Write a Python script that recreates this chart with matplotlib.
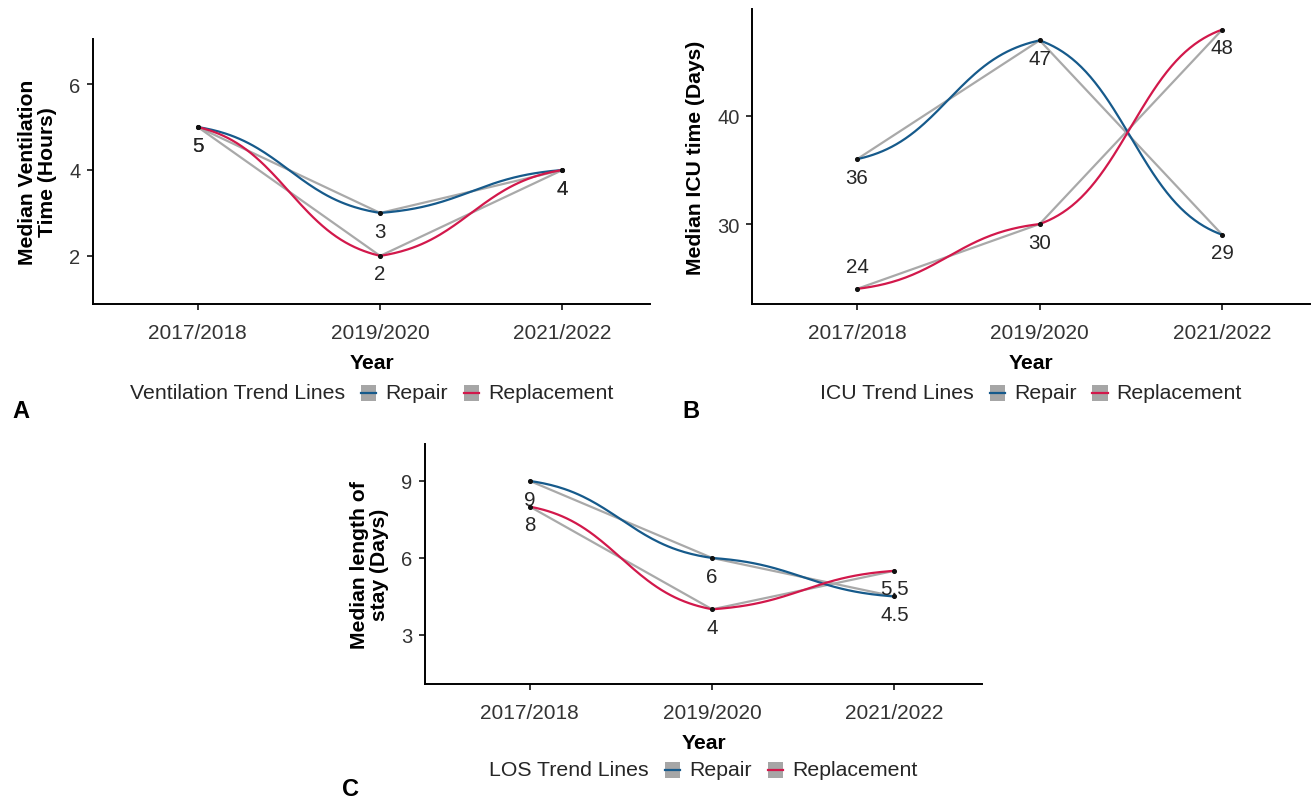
import numpy as np
import matplotlib
matplotlib.use('Agg')
import matplotlib.pyplot as plt
from matplotlib.lines import Line2D
from matplotlib.patches import Rectangle
from matplotlib.offsetbox import TextArea, DrawingArea, HPacker, AnchoredOffsetbox

plt.rcParams['font.family'] = ['Liberation Sans', 'DejaVu Sans']

YEARS = ['2017/2018', '2019/2020', '2021/2022']
GROUPS = ['Repair', 'Replacement']

vent_repair = [5, 3, 4]
vent_replacement = [5, 2, 4]
icu_repair = [36, 47, 29]
icu_replacement = [24, 30, 48]
los_repair = [9, 6, 4.5]
los_replacement = [8, 4, 5.5]

COLORS = {'Repair': '#165a8b', 'Replacement': '#d2184b'}
GRAY = '#a9a9a9'
TXT = '#262626'


def bump(y, smooth=2.8, n=80):
    # sigmoid segments between consecutive points (ggbump style)
    xs, ys = [], []
    for i in range(len(y) - 1):
        t = np.linspace(-smooth, smooth, n)
        s = 1 / (1 + np.exp(-t))
        s = (s - s[0]) / (s[-1] - s[0])
        xs.append(i + (t + smooth) / (2 * smooth))
        ys.append(y[i] + s * (y[i + 1] - y[i]))
    return np.concatenate(xs), np.concatenate(ys)


def trend_legend(ax, title):
    items = [TextArea(title, textprops=dict(fontsize=15.3, color=TXT))]
    for g in GROUPS:
        da = DrawingArea(11, 11)
        da.add_artist(Rectangle((0, 0), 11, 11, fc='#a6a6a6', ec='none'))
        da.add_artist(Line2D([0, 11], [5.5, 5.5], color=COLORS[g], lw=1.6))
        lab = TextArea(g, textprops=dict(fontsize=15.3, color=TXT))
        items.append(HPacker(children=[da, lab], align='center', pad=0, sep=6.5))
    box = HPacker(children=items, align='center', pad=0, sep=11.5)
    return AnchoredOffsetbox(loc='center', child=box, pad=0, frameon=False)


def panel(ax, rep, repl, ylabel, yticks, ylim, title, leg_dy, label_up=()):
    x = np.arange(len(YEARS))
    for vals in (rep, repl):
        ax.plot(x, vals, color=GRAY, lw=1.6, zorder=2)
    for g, vals in zip(GROUPS, (rep, repl)):
        bx, by = bump(vals)
        ax.plot(bx, by, color=COLORS[g], lw=1.6, zorder=3)
    for g, vals in zip(GROUPS, (rep, repl)):
        ax.scatter(x, vals, s=7, color='#111111', zorder=4)
        for xi, v in zip(x, vals):
            up = (g, xi) in label_up
            ax.annotate(f'{v:g}', (xi, v), xytext=(0, 16 if up else -13), textcoords='offset points',
                        ha='center', va='center', fontsize=14.8, color=TXT)
    ax.set_xlim(-0.575, 2.48)
    ax.set_ylim(*ylim)
    ax.set_xticks(x)
    ax.set_xticklabels(YEARS)
    ax.set_yticks(yticks)
    ax.set_xlabel('Year', fontsize=15.2, fontweight='bold', labelpad=8)
    ax.set_ylabel(ylabel, fontsize=15.2, fontweight='bold', labelpad=9, linespacing=1.05)
    for s in ('top', 'right'):
        ax.spines[s].set_visible(False)
    for s in ('left', 'bottom'):
        ax.spines[s].set_linewidth(1.4)
    ax.tick_params(length=4, width=1.1, labelcolor='#333333')
    ax.tick_params(axis='x', labelsize=15, pad=9.5)
    ax.tick_params(axis='y', labelsize=14.5, pad=5)
    leg = trend_legend(ax, title)
    h = ax.get_position().height * H
    leg.set_bbox_to_anchor((0.5, -leg_dy / h), transform=ax.transAxes)
    ax.add_artist(leg)


W, H = 1311, 803
fig = plt.figure(figsize=(W / 100, H / 100), dpi=100)

axA = fig.add_axes([93 / W, 1 - 305 / H, 557 / W, 265 / H])
axB = fig.add_axes([752 / W, 1 - 305 / H, 558 / W, 295 / H])
axC = fig.add_axes([425 / W, 1 - 685 / H, 557 / W, 240 / H])

panel(axA, vent_repair, vent_replacement, 'Median Ventilation\nTime (Hours)',
      [2, 4, 6], (0.88, 7.05), 'Ventilation Trend Lines', 89)
panel(axB, icu_repair, icu_replacement, 'Median ICU time (Days)',
      [30, 40], (22.6, 49.9), 'ICU Trend Lines', 89, label_up={('Replacement', 0)})
panel(axC, los_repair, los_replacement, 'Median length of\nstay (Days)',
      [3, 6, 9], (1.09, 10.44), 'LOS Trend Lines', 86)

fig.text(12 / W, 1 - 412 / H, 'A', fontsize=17, fontweight='bold', va='center', ha='left')
fig.text(682 / W, 1 - 412 / H, 'B', fontsize=17, fontweight='bold', va='center', ha='left')
fig.text(342 / W, 1 - 790 / H, 'C', fontsize=17, fontweight='bold', va='center', ha='left')

fig.savefig('out.png', dpi=100)
